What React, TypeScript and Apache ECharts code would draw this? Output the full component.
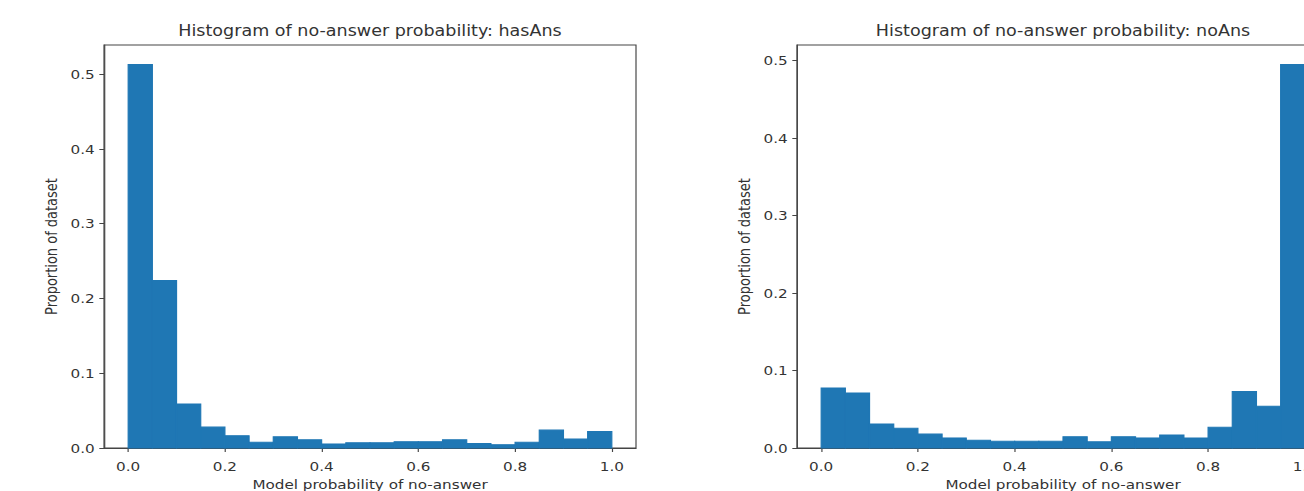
import React, { useEffect, useRef } from "react";
import * as echarts from "echarts";

const binStarts = [0.0, 0.05, 0.1, 0.15, 0.2, 0.25, 0.3, 0.35, 0.4, 0.45, 0.5, 0.55, 0.6, 0.65, 0.7, 0.75, 0.8, 0.85, 0.9, 0.95];
const binEnds = [0.05, 0.1, 0.15, 0.2, 0.25, 0.3, 0.35, 0.4, 0.45, 0.5, 0.55, 0.6, 0.65, 0.7, 0.75, 0.8, 0.85, 0.9, 0.95, 1.0];

const hasAnsValues = [0.513, 0.224, 0.059, 0.028, 0.0165, 0.0076, 0.015, 0.011, 0.0054, 0.007, 0.007, 0.0085, 0.0085, 0.011, 0.006, 0.0045, 0.0076, 0.024, 0.012, 0.022];
const noAnsValues = [0.0775, 0.071, 0.031, 0.0254, 0.018, 0.013, 0.010, 0.0086, 0.0086, 0.0086, 0.0146, 0.008, 0.0146, 0.013, 0.0168, 0.013, 0.0267, 0.073, 0.054, 0.495];

const xTicks = [0.0, 0.2, 0.4, 0.6, 0.8, 1.0];
const yTicksHas = [0.0, 0.1, 0.2, 0.3, 0.4, 0.5];
const yTicksNo = [0.0, 0.1, 0.2, 0.3, 0.4, 0.5];

const titles = ["Histogram of no-answer probability: hasAns", "Histogram of no-answer probability: noAns"];
const xName = "Model probability of no-answer";
const yName = "Proportion of dataset";

const FONT = "DejaVu Sans";
const TEXT = "#333";
const LINE = "#444";
const BAR = "#1f77b4";

// the reference image is horizontally stretched; draw narrower and stretch
const S = 1.17;
const W = 1304 / S;

export default function App() {
  const ref = useRef<HTMLDivElement>(null);
  useEffect(() => {
    document.body.style.margin = "0";
    document.body.style.overflow = "hidden";
    const chart = echarts.init(ref.current!, null, { renderer: "svg" });
    const toData = (vals: number[]) => vals.map((v, i) => [binStarts[i], binEnds[i], v]);
    const renderItem = (params: any, api: any) => {
      const s = api.coord([api.value(0), api.value(2)]);
      const e = api.coord([api.value(1), 0]);
      return {
        type: "rect",
        shape: { x: s[0], y: s[1], width: e[0] - s[0], height: e[1] - s[1] },
        style: { fill: BAR, stroke: BAR, lineWidth: 1 },
      };
    };
    const xAxis = (gi: number) => ({
      type: "value",
      gridIndex: gi,
      min: -0.05,
      max: 1.05,
      name: xName,
      nameLocation: "middle",
      nameGap: 28,
      nameTextStyle: { fontFamily: FONT, fontSize: 13, color: TEXT },
      axisLine: { show: true, onZero: false, lineStyle: { color: LINE, width: 1 } },
      axisTick: { show: true, length: 4, lineStyle: { color: LINE }, customValues: xTicks },
      axisLabel: {
        show: true,
        margin: 12,
        fontFamily: FONT,
        fontSize: 13,
        color: TEXT,
        customValues: xTicks,
        formatter: (v: number) => v.toFixed(1),
      },
      splitLine: { show: false },
    });
    const yAxis = (gi: number, max: number, ticks: number[]) => ({
      type: "value",
      gridIndex: gi,
      min: 0,
      max,
      name: yName,
      nameLocation: "middle",
      nameGap: 38,
      nameTextStyle: { fontFamily: FONT, fontSize: 13, color: TEXT },
      axisLine: { show: true, onZero: false, lineStyle: { color: LINE, width: 1 } },
      axisTick: { show: true, length: 4, lineStyle: { color: LINE }, customValues: ticks },
      axisLabel: {
        show: true,
        margin: 8,
        fontFamily: FONT,
        fontSize: 13,
        color: TEXT,
        customValues: ticks,
        formatter: (v: number) => v.toFixed(1),
      },
      splitLine: { show: false },
    });
    const gridW = 532 / S;
    chart.setOption({
      animation: false,
      backgroundColor: "#fff",
      title: [
        {
          text: titles[0],
          left: 370 / S,
          top: 23,
          textAlign: "center",
          padding: 0,
          textStyle: { fontFamily: FONT, fontSize: 15, fontWeight: "normal", color: TEXT },
        },
        {
          text: titles[1],
          left: 1063 / S,
          top: 23,
          textAlign: "center",
          padding: 0,
          textStyle: { fontFamily: FONT, fontSize: 15, fontWeight: "normal", color: TEXT },
        },
      ],
      grid: [
        { left: 104 / S, top: 45, width: gridW, height: 403, outerBoundsMode: "none", show: true, borderColor: LINE, borderWidth: 1, backgroundColor: "#fff" },
        { left: 797 / S, top: 45, width: gridW, height: 403, outerBoundsMode: "none", show: true, borderColor: LINE, borderWidth: 1, backgroundColor: "#fff" },
      ],
      xAxis: [xAxis(0), xAxis(1)],
      yAxis: [yAxis(0, 0.539, yTicksHas), yAxis(1, 0.52, yTicksNo)],
      series: [
        {
          type: "custom",
          xAxisIndex: 0,
          yAxisIndex: 0,
          renderItem,
          encode: { x: [0, 1], y: 2 },
          data: toData(hasAnsValues),
        },
        {
          type: "custom",
          xAxisIndex: 1,
          yAxisIndex: 1,
          renderItem,
          encode: { x: [0, 1], y: 2 },
          data: toData(noAnsValues),
        },
      ],
    });
    return () => chart.dispose();
  }, []);
  return (
    <div style={{ width: 1304, height: 491, overflow: "hidden" }}>
      <div
        ref={ref}
        style={{ width: W, height: 491, transform: `scaleX(${S})`, transformOrigin: "0 0" }}
      />
    </div>
  );
}
